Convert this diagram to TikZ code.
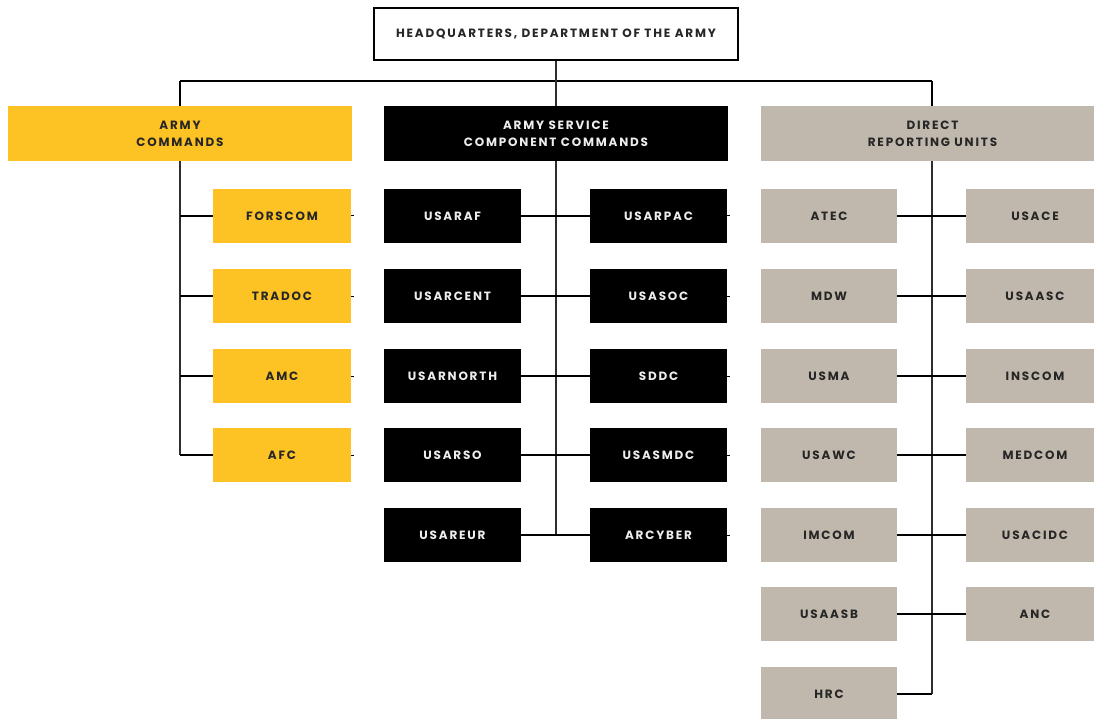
\documentclass[tikz,border=0pt]{standalone}
\usepackage{fontspec}
\setmainfont{Poppins}
\newfontfamily\lblfont{Poppins}[LetterSpace=15]
\definecolor{armyyellow}{HTML}{FDC325}
\definecolor{armybeige}{HTML}{C0B8AC}
\definecolor{armyline}{HTML}{2E2E2E}
\definecolor{darktext}{HTML}{262626}
\definecolor{lighttext}{HTML}{EDEDED}
\begin{document}
\begin{tikzpicture}[x=1pt,y=-1pt,
  lbl/.style={font=\lblfont\bfseries\fontsize{12}{17}\selectfont, align=center, inner sep=0pt},
  hq/.style={lbl, draw=black, line width=2pt, fill=white, text=darktext, minimum width=364, minimum height=52},
  ylw/.style={lbl, fill=armyyellow, text=darktext},
  blk/.style={lbl, fill=black, text=lighttext},
  bge/.style={lbl, fill=armybeige, text=darktext},
  head/.style={minimum width=344, minimum height=55},
  unit/.style={minimum width=137, minimum height=54},
  trunk/.style={draw=armyline, line width=2.6pt},
  branch/.style={draw=black, line width=2pt},
]
\useasboundingbox (0,0) rectangle (1094,719);
% headquarters
\node[hq] (hq) at (556,34) {HEADQUARTERS, DEPARTMENT OF THE ARMY};
% heads
\node[ylw,head] (ac) at (180,133.5) {ARMY\\COMMANDS};
\node[blk,head] (ascc) at (556,133.5) {ARMY SERVICE\\COMPONENT COMMANDS};
\node[bge,head,minimum width=343] (dru) at (932.5,133.5) {DIRECT\\REPORTING UNITS};
% bus
\coordinate (busL) at (180,81);
\coordinate (busR) at (932,81);
\draw[branch] (busL) -- (busR);
\draw[trunk] (hq.south) -- (ascc.north);
\draw[branch] (busL) -- (ac.north -| busL);
\draw[branch] (busR) -- (dru.north -| busR);
% army commands
\node[ylw,unit,minimum width=138] (forscom) at (282,216) {FORSCOM};
\node[ylw,unit,minimum width=138] (tradoc) at (282,296) {TRADOC};
\node[ylw,unit,minimum width=138] (amc) at (282,376) {AMC};
\node[ylw,unit,minimum width=138] (afc) at (282,455) {AFC};
\coordinate (acend) at (180,455);
\draw[trunk] (ac.south) -- (acend);
\foreach \n in {forscom,tradoc,amc,afc}{
  \draw[branch] (\n.west) -- (\n.west -| ac.south);
  \draw[black, line width=1pt] (\n.east) -- ++(3,0);
}
% service component commands
\node[blk,unit] (usaraf) at (452.5,216) {USARAF};
\node[blk,unit] (usarcent) at (452.5,296) {USARCENT};
\node[blk,unit] (usarnorth) at (452.5,376) {USARNORTH};
\node[blk,unit] (usarso) at (452.5,455) {USARSO};
\node[blk,unit] (usareur) at (452.5,535) {USAREUR};
\node[blk,unit] (usarpac) at (658.5,216) {USARPAC};
\node[blk,unit] (usasoc) at (658.5,296) {USASOC};
\node[blk,unit] (sddc) at (658.5,376) {SDDC};
\node[blk,unit] (usasmdc) at (658.5,455) {USASMDC};
\node[blk,unit] (arcyber) at (658.5,535) {ARCYBER};
\coordinate (asccend) at (556,535);
\draw[trunk] (ascc.south) -- (asccend);
\foreach \a/\b in {usaraf/usarpac,usarcent/usasoc,usarnorth/sddc,usarso/usasmdc,usareur/arcyber}{
  \draw[branch] (\a.east) -- (\b.west);
  \draw[black, line width=1pt] (\b.east) -- ++(3,0);
}
% direct reporting units
\node[bge,unit,minimum width=136] (atec) at (829,216) {ATEC};
\node[bge,unit,minimum width=136] (mdw) at (829,296) {MDW};
\node[bge,unit,minimum width=136] (usma) at (829,376) {USMA};
\node[bge,unit,minimum width=136] (usawc) at (829,455) {USAWC};
\node[bge,unit,minimum width=136] (imcom) at (829,535) {IMCOM};
\node[bge,unit,minimum width=136] (usaasb) at (829,614) {USAASB};
\node[bge,unit,minimum width=136] (hrc) at (829,694) {HRC};
\node[bge,unit,minimum width=138] (usace) at (1035,216) {USACE};
\node[bge,unit,minimum width=138] (usaasc) at (1035,296) {USAASC};
\node[bge,unit,minimum width=138] (inscom) at (1035,376) {INSCOM};
\node[bge,unit,minimum width=138] (medcom) at (1035,455) {MEDCOM};
\node[bge,unit,minimum width=138] (usacidc) at (1035,535) {USACIDC};
\node[bge,unit,minimum width=138] (anc) at (1035,614) {ANC};
\coordinate (druend) at (932,694);
\draw[trunk] (dru.south -| druend) -- (druend);
\foreach \a/\b in {atec/usace,mdw/usaasc,usma/inscom,usawc/medcom,imcom/usacidc,usaasb/anc}{
  \draw[branch] (\a.east) -- (\b.west);
}
\draw[branch] (hrc.east) -- (druend);
\end{tikzpicture}
\end{document}
